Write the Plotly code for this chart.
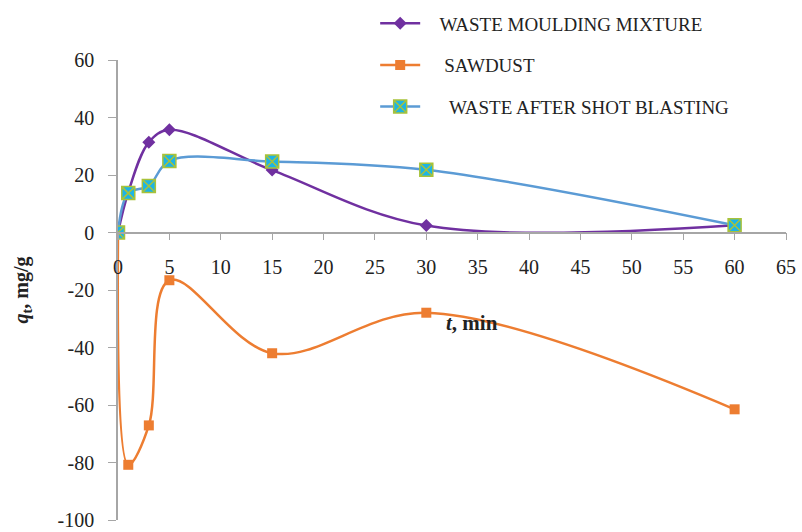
import plotly.graph_objects as go

t_min = [0, 1, 3, 5, 15, 30, 60]
moulding = [0, 14.0, 31.4, 35.7, 21.7, 2.4, 2.5]
sawdust = [0, -80.8, -67.1, -16.6, -42.0, -27.9, -61.5]
shot_blasting = [0, 13.7, 16.2, 24.9, 24.7, 21.8, 2.5]

x_ticks = list(range(0, 66, 5))
y_ticks = list(range(-100, 61, 20))

SERIF = "Liberation Serif"
NB = "\u00a0"

fig = go.Figure()
fig.add_trace(go.Scatter(
    x=t_min, y=moulding, name=NB * 3 + "WASTE MOULDING MIXTURE", legendgroup="a",
    mode="lines+markers", line=dict(color="#7030A0", width=2.5, shape="spline", smoothing=1),
    marker=dict(symbol="diamond", size=10, color="#7030A0")))
fig.add_trace(go.Scatter(
    x=t_min, y=sawdust, name=NB * 4 + "SAWDUST", legendgroup="b",
    mode="lines+markers", line=dict(color="#ED7D31", width=2.5, shape="spline", smoothing=1),
    marker=dict(symbol="square", size=10, color="#ED7D31")))
fig.add_trace(go.Scatter(
    x=t_min, y=shot_blasting, name=NB * 5 + "WASTE AFTER SHOT BLASTING", legendgroup="c",
    mode="lines+markers", line=dict(color="#5B9BD5", width=2.5, shape="spline", smoothing=1),
    marker=dict(symbol="square-x", size=13, color="#1CB4E6",
                line=dict(color="#A8C23A", width=1.5))))

fig.update_layout(
    width=802, height=532,
    margin=dict(l=118, r=16, t=60, b=12, autoexpand=False),
    paper_bgcolor="white", plot_bgcolor="white",
    font=dict(family=SERIF, size=20, color="#222222"),
    showlegend=True,
    legend=dict(x=0.385, y=1.121, xanchor="left", yanchor="top",
                font=dict(family=SERIF, size=19, color="#222222"),
                tracegroupgap=14, bgcolor="rgba(0,0,0,0)", itemwidth=40),
    xaxis=dict(range=[0, 65], tickvals=x_ticks, ticktext=[str(v) for v in x_ticks],
               anchor="free", position=0.625, showline=True, linecolor="#A6A6A6",
               linewidth=1.5, ticks="outside", ticklen=7, tickcolor="#A6A6A6",
               showgrid=False, zeroline=False, ticklabelstandoff=10,
               tickfont=dict(family=SERIF, size=20, color="#222222"), automargin=False),
    yaxis=dict(range=[-100, 60], tickvals=y_ticks, ticktext=[str(v) for v in y_ticks],
               showline=True, linecolor="#A6A6A6", linewidth=1.5, ticks="outside",
               ticklen=8, tickcolor="#A6A6A6", showgrid=False, zeroline=False,
               ticklabelstandoff=10,
               tickfont=dict(family=SERIF, size=20, color="#222222"), automargin=False,
               title=dict(text="<b><i>q</i><sub>t</sub>, mg/g</b>", standoff=24,
                          font=dict(family=SERIF, size=20, color="#222222"))),
)

fig.add_annotation(
    text="<b><i>t</i>, min</b>", x=31.7, y=-31.5, xref="x", yref="y",
    xanchor="left", yanchor="middle", showarrow=False,
    font=dict(family=SERIF, size=21, color="#222222"))

fig.write_html("out.html", config={"displayModeBar": False},
               post_script="document.body.style.margin='0';")
